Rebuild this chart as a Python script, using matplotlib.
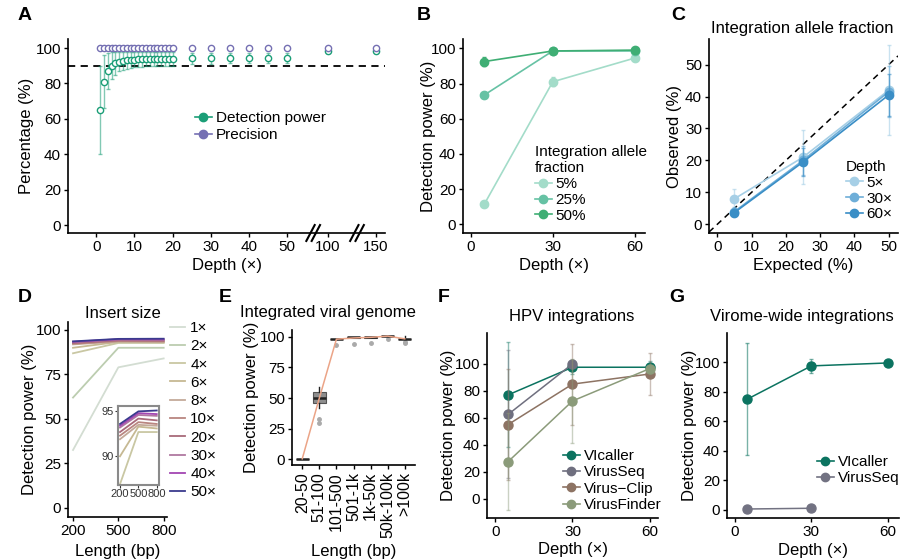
import numpy as np
import matplotlib
matplotlib.use('Agg')
import matplotlib.pyplot as plt
from matplotlib.lines import Line2D

plt.rcParams['font.family'] = ['Liberation Sans', 'DejaVu Sans']
plt.rcParams['font.size'] = 11

W, H = 906, 559

# ---------------- data ----------------
# A: detection power / precision vs depth
depth_a = [1, 2, 3, 4, 5, 6, 7, 8, 9, 10, 11, 12, 13, 14, 15, 16, 17, 18, 19, 20,
           25, 30, 35, 40, 45, 50, 100, 150]
power_a = [65, 81, 87, 90, 91.5, 92.3, 92.8, 93.2, 93.4, 93.5, 93.6, 93.7, 93.8, 93.8,
           93.9, 93.9, 94, 94, 94, 94, 94.2, 94.2, 94.3, 94.3, 94.3, 94.5, 98.5, 98.5]
power_a_sd = [25, 15, 10, 7.5, 6.5, 5.5, 5, 4.8, 4.6, 4.5, 4.4, 4.3, 4.2, 4.2,
              4.1, 4.1, 4, 4, 4, 4, 3.2, 3.1, 3, 3, 3, 2.8, 1.5, 1.5]
prec_a = [100, 100, 100, 100, 100, 100, 100, 100, 100, 100, 100, 100, 100, 100,
          100, 100, 100, 100, 100, 100, 100, 100, 100, 100, 100, 100, 100, 100]
prec_a_sd = [0.3, 0.3, 0.3, 0.3, 0.3, 0.3, 0.3, 0.3, 0.3, 0.3, 0.3, 0.3, 0.3, 0.3,
             0.3, 0.3, 0.3, 0.3, 0.3, 0.3, 0.3, 0.3, 0.3, 0.3, 0.3, 0.3, 0.3, 0.3]
ticks_a = [0, 10, 20, 30, 40, 50, 100, 150]

# B: detection power by integration allele fraction
depth_b = [5, 30, 60]
frac_labels = ['5%', '25%', '50%']
power_b = [[11.5, 81, 94.5], [73.5, 98.5, 98.5], [92.5, 98.5, 99]]
power_b_sd = [[1.5, 2.5, 1.2], [1.5, 1, 1], [2.5, 1, 1]]

# C: observed vs expected allele fraction
expected_c = [5, 25, 50]
depth_labels_c = ['5×', '30×', '60×']
observed_c = [[8, 21, 42], [4, 20, 41.5], [3.7, 19.5, 40.5]]
observed_c_sd = [[3.2, 8.5, 14], [1.5, 4.5, 8], [1.2, 4.5, 6.5]]

# D: insert size
insert_len = [200, 500, 800]
insert_depths = ['1×', '2×', '4×', '6×', '8×', '10×', '20×', '30×', '40×', '50×']
insert_power = [[32.5, 79, 84], [62, 90, 90], [86.9, 92.7, 92.7], [90, 93.3, 93.1],
                [91.9, 93.5, 93.4], [92.3, 93.8, 93.6], [92.7, 94.2, 94.0],
                [93.2, 94.6, 94.5], [93.4, 94.8, 94.7], [93.6, 95.0, 95.1]]

# E: integrated viral genome length
genome_cats = ['20-50', '51-100', '101-500', '501-1k', '1k-50k', '50k-100k', '>100k']
genome_med = [0.5, 50, 98.2, 99.5, 99.5, 100.8, 98.2]
genome_q1 = [0.3, 46, 98, 99.3, 99.3, 100.6, 97.9]
genome_q3 = [0.7, 54.6, 98.4, 99.7, 99.7, 101, 98.5]
genome_lo = [0.3, 41.7, 98, 99.3, 99.3, 100.6, 95.4]
genome_hi = [0.7, 58.7, 98.4, 99.7, 99.7, 101, 100.8]
genome_fliers = [[], [33, 29.7], [93.3], [94.1], [95], [97.8], [96, 94.5]]
genome_mean = [0.5, 50, 98, 99, 99.5, 100.5, 98.3]

# F: HPV integrations
depth_f = [5, 30, 60]
tools_f = ['VIcaller', 'VirusSeq', 'Virus−Clip', 'VirusFinder']
power_f = [[77, 97.5, 97.5], [62.5, 100], [55, 85, 92.5], [27.5, 72.5, 96.5]]
power_f_sd = [[39, 5, 5], [47.5, 3], [41, 30, 15.5], [36, 31, 3]]

# G: virome-wide integrations
tools_g = ['VIcaller', 'VirusSeq']
power_g = [[75, 97.5, 99.5], [0.5, 1]]
power_g_sd = [[38, 4.5, 0.5], [0, 0]]

GREEN, PURPLE = '#1b9e77', '#7570b3'
B_COLS = ['#a3dcc9', '#66c2a4', '#3fae74']
C_COLS = ['#a6cfe6', '#6eaed8', '#3a8ec6']
D_COLS = ['#d3ddd2', '#bccdb0', '#c9c7a3', '#c6b993', '#c4aa9a', '#b98680',
          '#a86a7a', '#b078a0', '#a345b2', '#3a3a8e']
F_COLS = ['#0b7360', '#6f6f7f', '#8d7363', '#8b9b7a']
G_COLS = ['#0b7360', '#727282']

fig = plt.figure(figsize=(W / 100, H / 100), dpi=100)


def add_ax(l, t, r, b):
    ax = fig.add_axes([l / W, 1 - b / H, (r - l) / W, (b - t) / H])
    for s in ['top', 'right']:
        ax.spines[s].set_visible(False)
    for s in ['left', 'bottom']:
        ax.spines[s].set_linewidth(1.2)
    ax.tick_params(direction='out', length=3, width=1, labelsize=11, pad=2)
    ax.px = (l, t, r, b)
    return ax


def labels(ax, xlab, ylab, x_yc, y_xc):
    l, t, r, b = ax.px
    ax.set_xlabel(xlab, fontsize=12)
    ax.set_ylabel(ylab, fontsize=12)
    ax.xaxis.set_label_coords(0.5, (b - (x_yc - 5)) / (b - t))
    ax.yaxis.set_label_coords((y_xc + 9 - l) / (r - l), 0.5)


def ftext(x, y, s, **kw):
    fig.text(x / W, 1 - y / H, s, ha='center', va='center', **kw)


def legend_at(ax, handles, labs, x, y, **kw):
    opts = dict(loc='upper left', bbox_to_anchor=(x / W, 1 - y / H),
                bbox_transform=fig.transFigure, frameon=False, fontsize=11,
                borderpad=0, borderaxespad=0, handlelength=1.1,
                handletextpad=0.25, labelspacing=0.2)
    opts.update(kw)
    return ax.legend(handles, labs, **opts)


def pt_handle(c, lc=None):
    return Line2D([], [], color=lc or c, marker='o', markersize=6, lw=1.2,
                  markerfacecolor=c, markeredgecolor=c)


# ---------------- A ----------------
ax = add_ax(68, 39, 385, 233)


def a_pos(d):
    # broken axis: 0-50 linear, then compressed segments for 100 and 150
    d = np.asarray(d, dtype=float)
    return np.where(d <= 50, d, np.where(d <= 100, 50 + (d - 50) * 10.8 / 50,
                                         60.8 + (d - 100) * 12.6 / 50))


xa = a_pos(depth_a)
ax.axhline(90, color='black', lw=1.3, ls=(0, (4, 3)), zorder=1)
ax.errorbar(xa, power_a, yerr=power_a_sd, fmt='none', ecolor=GREEN, alpha=0.55,
            elinewidth=1, capsize=1.5, zorder=2)
ax.errorbar(xa, prec_a, yerr=prec_a_sd, fmt='none', ecolor=PURPLE, alpha=0.8,
            elinewidth=1, capsize=1.5, zorder=2)
ax.plot(xa, power_a, 'o', ms=4.5, mfc='white', mec=GREEN, mew=1, zorder=3)
ax.plot(xa, prec_a, 'o', ms=4.5, mfc='white', mec=PURPLE, mew=1, zorder=3)
ax.set_xlim(-7.45, 75.75)
ax.set_ylim(-4.5, 105.1)
ax.set_xticks(a_pos(ticks_a))
ax.set_xticklabels([str(t) for t in ticks_a])
ax.set_yticks([0, 20, 40, 60, 80, 100])
for cx in [56.9, 68.4]:
    for off in [-0.7, 0.7]:
        ax.plot([cx + off - 1.1, cx + off + 1.1], [-4.5 - 4.5, -4.5 + 4.5],
                color='black', lw=1.5, clip_on=False, zorder=5)
labels(ax, 'Depth (×)', 'Percentage (%)', 263, 25)
legend_at(ax, [pt_handle(GREEN), pt_handle(PURPLE)], ['Detection power', 'Precision'],
          195, 111)

# ---------------- B ----------------
ax = add_ax(463, 39, 645, 233)
for vals, sd, c in zip(power_b, power_b_sd, B_COLS):
    ax.errorbar(depth_b, vals, yerr=sd, color=c, marker='o', ms=6, lw=1.2,
                capsize=1.5, elinewidth=1)
ax.set_xlim(-2.8, 63.7)
ax.set_ylim(-4.9, 105.3)
ax.set_xticks([0, 30, 60])
ax.set_yticks([0, 20, 40, 60, 80, 100])
labels(ax, 'Depth (×)', 'Detection power (%)', 263, 427)
legend_at(ax, [pt_handle(c) for c in B_COLS], frac_labels, 535, 145,
          title='Integration allele\nfraction', title_fontsize=11,
          alignment='left', handletextpad=0.2, labelspacing=0.12)

# ---------------- C ----------------
ax = add_ax(709, 39, 898, 233)
ax.axline((0, 0), slope=1, color='black', ls=(0, (4, 3)), lw=1.1)
for vals, sd, c in zip(observed_c, observed_c_sd, C_COLS):
    ax.errorbar(expected_c, vals, yerr=sd, fmt='none', ecolor=c, alpha=0.6,
                capsize=1.5, elinewidth=1)
    ax.plot(expected_c, vals, color=c, marker='o', ms=6, lw=1.2)
ax.set_xlim(-2.4, 52.7)
ax.set_ylim(-2.7, 58)
ax.set_xticks([0, 10, 20, 30, 40, 50])
ax.set_yticks([0, 10, 20, 30, 40, 50])
labels(ax, 'Expected (%)', 'Observed (%)', 263, 673)
ftext(802, 28, 'Integration allele fraction', fontsize=12)
legend_at(ax, [pt_handle(c) for c in C_COLS], depth_labels_c, 846, 160,
          title='Depth', title_fontsize=11, alignment='left', labelspacing=0.12)

# ---------------- D ----------------
ax = add_ax(68, 322, 167, 517)
for vals, c in zip(insert_power, D_COLS):
    ax.plot(insert_len, vals, color=c, lw=1.3)
ax.set_xlim(166.7, 822)
ax.set_ylim(-5.2, 104.5)
ax.set_xticks(insert_len)
ax.set_yticks([0, 25, 50, 75, 100])
labels(ax, 'Length (bp)', 'Detection power (%)', 549, 28)
ftext(123, 313, 'Insert size', fontsize=12)
legend_at(ax, [Line2D([], [], color=c, lw=1.3) for c in D_COLS], insert_depths,
          170, 321, handlelength=1.0, handletextpad=0.33, labelspacing=0.28)
ins = fig.add_axes([118.3 / W, 1 - 485 / H, 41 / W, 79 / H])
for vals, c in zip(insert_power[2:], D_COLS[2:]):
    ins.plot(insert_len, vals, color=c, lw=1.3)
ins.set_xlim(172, 842)
ins.set_ylim(86.8, 95.6)
ins.set_xticks(insert_len)
ins.set_yticks([90, 95])
for s in ins.spines.values():
    s.set_color('#8a8a8a')
    s.set_linewidth(1.5)
ins.tick_params(labelsize=8, length=2, pad=1, colors='#333333')

# ---------------- E ----------------
ax = add_ax(292, 330, 415, 465)
stats = []
for i in range(len(genome_cats)):
    stats.append(dict(med=genome_med[i], q1=genome_q1[i], q3=genome_q3[i],
                      whislo=genome_lo[i], whishi=genome_hi[i],
                      fliers=genome_fliers[i]))
ax.bxp(stats, positions=range(len(genome_cats)), widths=0.75, patch_artist=True,
       showcaps=False,
       boxprops=dict(facecolor='#8e8e8e', edgecolor='#555555', lw=0.8),
       medianprops=dict(color='#222222', lw=1.8),
       whiskerprops=dict(color='#222222', lw=1),
       flierprops=dict(marker='o', ms=2.5, mfc='#aaaaaa', mec='#aaaaaa'))
ax.plot(range(len(genome_cats)), genome_mean, color='#eba487', lw=1.1, zorder=3)
ax.set_xlim(-0.6, 6.6)
ax.set_ylim(-4.6, 105.5)
ax.set_xticks(range(len(genome_cats)))
ax.set_xticklabels(genome_cats, rotation=90)
ax.tick_params(axis='x', labelsize=11.5)
ax.set_yticks([0, 25, 50, 75, 100])
labels(ax, 'Length (bp)', 'Detection power (%)', 549, 250)
ftext(328, 313, 'Integrated viral genome', fontsize=12)

# ---------------- F ----------------
ax = add_ax(487, 333, 658, 518)
for vals, sd, c in zip(power_f, power_f_sd, F_COLS):
    x = depth_f[:len(vals)]
    ax.errorbar(x, vals, yerr=sd, fmt='none', ecolor=c, alpha=0.45,
                capsize=1.5, elinewidth=1)
    ax.plot(x, vals, color=c, marker='o', ms=6.5, lw=1.1)
ax.set_xlim(-3.2, 63.2)
ax.set_ylim(-14.3, 122.9)
ax.set_xticks([0, 30, 60])
ax.set_yticks([0, 20, 40, 60, 80, 100])
labels(ax, 'Depth (×)', 'Detection power (%)', 547, 447)
ftext(572, 317, 'HPV integrations', fontsize=12)
legend_at(ax, [pt_handle(c) for c in F_COLS], tools_f, 563, 449,
          labelspacing=0.15)

# ---------------- G ----------------
ax = add_ax(727, 333, 899, 518)
for vals, sd, c in zip(power_g, power_g_sd, G_COLS):
    x = depth_f[:len(vals)]
    ax.errorbar(x, vals, yerr=sd, fmt='none', ecolor=c, alpha=0.55,
                capsize=1.5, elinewidth=1)
    ax.plot(x, vals, color=c, marker='o', ms=6.5, lw=1.1)
ax.set_xlim(-3.0, 64.3)
ax.set_ylim(-5.6, 119.8)
ax.set_xticks([0, 30, 60])
ax.set_yticks([0, 20, 40, 60, 80, 100])
labels(ax, 'Depth (×)', 'Detection power (%)', 548, 688)
ftext(802, 316, 'Virome-wide integrations', fontsize=12)
legend_at(ax, [pt_handle(c) for c in G_COLS], tools_g, 817, 455,
          labelspacing=0.15)

# panel letters
for s, x, y in [('A', 25, 15), ('B', 424, 15), ('C', 678, 15), ('D', 25, 297),
                ('E', 225, 297), ('F', 444, 297), ('G', 677, 297)]:
    ftext(x, y, s, fontsize=14, fontweight='bold')

fig.savefig('out.png', dpi=100)
